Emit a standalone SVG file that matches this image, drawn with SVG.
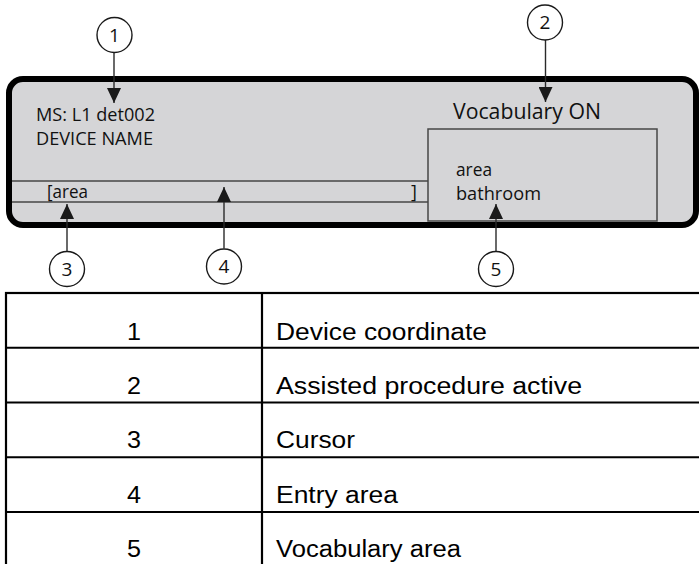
<svg xmlns="http://www.w3.org/2000/svg" width="699" height="564" viewBox="0 0 699 564">
<style>
.disp{font-family:"Open Sans","Noto Sans","DejaVu Sans",sans-serif;fill:#111}
.num{font-family:"Open Sans","Noto Sans","DejaVu Sans",sans-serif;font-size:19px;fill:#111;text-anchor:middle}
.tbl{font-family:"Liberation Sans",Arial,sans-serif;font-size:23px;fill:#000}
.tnum{font-family:"Liberation Sans",Arial,sans-serif;font-size:23px;fill:#000;text-anchor:middle}
.call{fill:#fff;stroke:#1a1a1a;stroke-width:1.4}
.conn{stroke:#2a2a2a;stroke-width:1.4;fill:none}
.thin{stroke:#474747;stroke-width:1.5;fill:none}
.grid{stroke:#000;stroke-width:2.2;fill:none}
</style>
<defs>
<marker id="ah" markerUnits="userSpaceOnUse" viewBox="0 0 15 14" refX="15" refY="7" markerWidth="15" markerHeight="14" orient="auto">
<path d="M0,0 L15,7 L0,14 z" fill="#1a1a1a"/>
</marker>
</defs>
<rect width="699" height="564" fill="#fff"/>
<g id="display">
<rect x="9" y="79" width="687" height="146" rx="14" ry="14" fill="#d5d5d7" stroke="#000" stroke-width="6"/>
<path class="thin" d="M12,181 H428 M12,202 H428"/>
<rect class="thin" x="428" y="129" width="229" height="92" fill="none"/>
<text class="disp" x="36" y="121" font-size="19" textLength="119" lengthAdjust="spacingAndGlyphs">MS: L1 det002</text>
<text class="disp" x="36" y="145" font-size="19" textLength="117" lengthAdjust="spacingAndGlyphs">DEVICE NAME</text>
<text class="disp" x="47" y="198" font-size="18" textLength="41" lengthAdjust="spacingAndGlyphs">[area</text>
<text class="disp" x="411" y="198" font-size="18">]</text>
<text class="disp" x="453" y="119" font-size="21" textLength="148" lengthAdjust="spacingAndGlyphs">Vocabulary ON</text>
<text class="disp" x="456" y="176" font-size="18" textLength="36" lengthAdjust="spacingAndGlyphs">area</text>
<text class="disp" x="456" y="200" font-size="18" textLength="85" lengthAdjust="spacingAndGlyphs">bathroom</text>
</g>
<g id="connectors">
<line class="conn" x1="114" y1="53" x2="114" y2="103" marker-end="url(#ah)"/>
<line class="conn" x1="545.5" y1="40" x2="545.5" y2="102" marker-end="url(#ah)"/>
<line class="conn" x1="67" y1="251" x2="67" y2="204" marker-end="url(#ah)"/>
<line class="conn" x1="224" y1="248.5" x2="224" y2="187" marker-end="url(#ah)"/>
<line class="conn" x1="496" y1="251" x2="496" y2="204" marker-end="url(#ah)"/>
</g>
<g id="callout1"><circle class="call" cx="114.5" cy="35" r="17.5"/><text class="num" x="114.5" y="41.5">1</text></g>
<g id="callout2"><circle class="call" cx="545" cy="22.5" r="17.5"/><text class="num" x="545" y="29">2</text></g>
<g id="callout3"><circle class="call" cx="67" cy="269" r="17.5"/><text class="num" x="67" y="275.5">3</text></g>
<g id="callout4"><circle class="call" cx="224" cy="266.5" r="17.5"/><text class="num" x="224" y="273">4</text></g>
<g id="callout5"><circle class="call" cx="496" cy="269" r="17.5"/><text class="num" x="496" y="275.5">5</text></g>
<g id="table">
<rect class="grid" x="6" y="293" width="700" height="275"/>
<path class="grid" d="M262,293 V568 M6,347.75 H706 M6,402.5 H706 M6,457.25 H706 M6,512 H706"/>
<text class="tnum" x="134" y="339.5" textLength="14" lengthAdjust="spacingAndGlyphs">1</text>
<text class="tbl" x="276" y="339.5" textLength="211" lengthAdjust="spacingAndGlyphs">Device coordinate</text>
<text class="tnum" x="134" y="394" textLength="14" lengthAdjust="spacingAndGlyphs">2</text>
<text class="tbl" x="276" y="394" textLength="306" lengthAdjust="spacingAndGlyphs">Assisted procedure active</text>
<text class="tnum" x="134" y="448" textLength="14" lengthAdjust="spacingAndGlyphs">3</text>
<text class="tbl" x="276" y="448" textLength="79" lengthAdjust="spacingAndGlyphs">Cursor</text>
<text class="tnum" x="134" y="503" textLength="14" lengthAdjust="spacingAndGlyphs">4</text>
<text class="tbl" x="276" y="503" textLength="122" lengthAdjust="spacingAndGlyphs">Entry area</text>
<text class="tnum" x="134" y="557" textLength="14" lengthAdjust="spacingAndGlyphs">5</text>
<text class="tbl" x="276" y="557" textLength="185" lengthAdjust="spacingAndGlyphs">Vocabulary area</text>
</g>
</svg>
